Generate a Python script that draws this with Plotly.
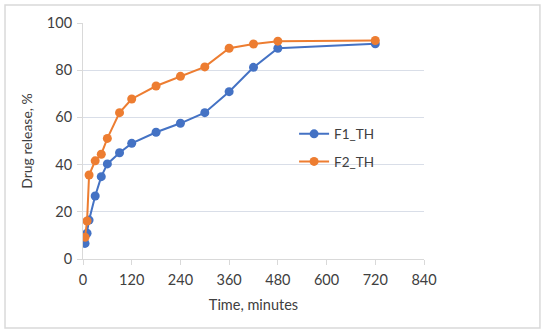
import plotly.graph_objects as go

time_min = [5, 10, 15, 30, 45, 60, 90, 120, 180, 240, 300, 360, 420, 480, 720]
f1_th = [6.6, 10.9, 16.5, 26.7, 34.9, 40.3, 45.0, 49.0, 53.7, 57.5, 62.0, 70.9, 81.2, 89.3, 91.2]
f2_th = [9.2, 16.1, 35.6, 41.6, 44.4, 51.1, 62.0, 67.8, 73.3, 77.4, 81.4, 89.3, 91.1, 92.3, 92.6]
x_ticks = [0, 120, 240, 360, 480, 600, 720, 840]
y_ticks = [0, 20, 40, 60, 80, 100]

FONT = "Lato"
TXT = "#404040"

fig = go.Figure()
fig.add_trace(go.Scatter(x=time_min, y=f1_th, name="F1_TH", mode="lines+markers",
                         legendgroup="a",
                         line=dict(color="#4472C4", width=2),
                         marker=dict(color="#4472C4", size=9)))
fig.add_trace(go.Scatter(x=time_min, y=f2_th, name="F2_TH", mode="lines+markers",
                         legendgroup="b",
                         line=dict(color="#ED7D31", width=2),
                         marker=dict(color="#ED7D31", size=9)))

fig.update_layout(
    width=550, height=335,
    margin=dict(l=83, r=126, t=23, b=76),
    paper_bgcolor="white", plot_bgcolor="white",
    font=dict(family=FONT, size=14.5, color=TXT),
    showlegend=True,
    hovermode=False,
    legend=dict(x=0.619, y=0.595, xanchor="left", yanchor="top",
                bgcolor="rgba(0,0,0,0)", font=dict(size=13.5, color=TXT),
                traceorder="grouped", tracegroupgap=7),
    xaxis=dict(range=[0, 840], tickvals=x_ticks, showgrid=False, zeroline=False,
               showline=True, linecolor="#D9D9D9", linewidth=1,
               ticks="outside", ticklen=5, tickcolor="#D9D9D9", ticklabelstandoff=3,
               tickfont=dict(size=14.5, color=TXT),
               title=dict(text="Time, minutes", font=dict(size=14.5, color=TXT), standoff=12)),
    yaxis=dict(range=[0, 100], tickvals=y_ticks, showgrid=True, gridcolor="#D9DEE8",
               zeroline=False, showline=True, linecolor="#D9D9D9", linewidth=1,
               ticks="outside", ticklen=5, tickcolor="#D9D9D9", ticklabelstandoff=2,
               tickfont=dict(size=14.5, color=TXT),
               title=dict(text="Drug release, %", font=dict(size=14, color=TXT), standoff=10)),
    shapes=[dict(type="rect", xref="paper", yref="paper",
                 x0=-0.2287, x1=1.340, y0=-0.2924, y1=1.0763,
                 line=dict(color="#D9D9D9", width=1.5), fillcolor="rgba(0,0,0,0)", layer="below")],
)

fig.write_html("out.html", config={"displayModeBar": False},
               post_script="document.body.style.margin='0px';")
